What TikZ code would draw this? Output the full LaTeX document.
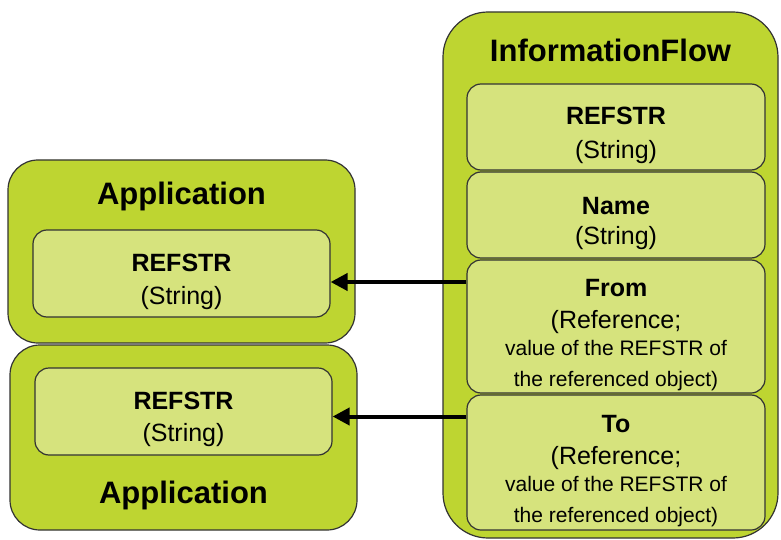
\documentclass[tikz,border=0pt]{standalone}
\usepackage{fontspec}
\setmainfont{Liberation Sans}
\usetikzlibrary{positioning, arrows.meta}
\usepackage{xcolor}
\definecolor{ifouter}{HTML}{BED531}
\definecolor{ifinner}{HTML}{D6E37D}
\definecolor{ifline}{HTML}{333333}
\newcommand{\fieldstrut}{\rule{0pt}{34pt}}
\newcommand{\smallline}{\fontsize{21}{24}\selectfont}

\begin{document}
\begin{tikzpicture}[
  x=1pt, y=-1pt,
  outer/.style={
    draw=ifline, line width=1.2pt, fill=ifouter,
    rounded corners=30pt, inner sep=0pt
  },
  field/.style={
    draw=ifline, line width=1.2pt, fill=ifinner,
    rounded corners=14pt, align=center, inner sep=0pt,
    minimum width=298pt, font=\fontsize{25}{30}\selectfont
  },
  title/.style={anchor=base, font=\fontsize{31}{36}\selectfont\bfseries},
  link/.style={-{Triangle[length=17pt,width=17pt]}, line width=4pt, draw=black},
]
\useasboundingbox (0,0) rectangle (781,540);

% InformationFlow container with its four fields
\node[outer, rounded corners=45pt, minimum width=335pt, minimum height=526pt] (flow) at (610.5,275) {};
\node[title] (flowtitle) at ([yshift=-50pt]flow.north) {InformationFlow};

\node[field, minimum height=86pt]  (frefstr) at (616,127)   {\fieldstrut\textbf{REFSTR}\\[4pt](String)};
\node[field, minimum height=86pt]  (fname)   at (616,215)   {\fieldstrut\textbf{Name}\\(String)};
\node[field, minimum height=133pt] (ffrom)   at (616,326.5) {\fieldstrut\textbf{From}\\[2pt](Reference;\\[-3pt]
  \smallline value of the REFSTR of\\[1pt]\smallline the referenced object)};
\node[field, minimum height=135pt] (fto)     at (616,462.5) {\fieldstrut\textbf{To}\\[2pt](Reference;\\[-3pt]
  \smallline value of the REFSTR of\\[1pt]\smallline the referenced object)};

% Application (top)
\node[outer, minimum width=347pt, minimum height=183pt] (app1) at (181.5,251.5) {};
\node[title] (app1title) at ([yshift=-45pt]app1.north) {Application};
\node[field, minimum width=297pt, minimum height=87pt] (app1ref) at (181.5,273.5) {\fieldstrut\textbf{REFSTR}\\[3pt](String)};

% Application (bottom), title below the field
\node[outer, minimum width=347pt, minimum height=185pt] (app2) at (183.5,437.5) {};
\node[title] (app2title) at ([yshift=27pt]app2.south) {Application};
\node[field, minimum width=297pt, minimum height=87pt] (app2ref) at (183.5,411.5) {\fieldstrut\textbf{REFSTR}\\[2pt](String)};

% References point back to the REFSTR fields
\coordinate (fromend) at ([yshift=-8.5pt]app1ref.east);
\coordinate (toend)   at ([yshift=-5pt]app2ref.east);
\draw[link] (fromend -| ffrom.west) -- (fromend);
\draw[link] (toend -| fto.west)     -- (toend);
\end{tikzpicture}
\end{document}
